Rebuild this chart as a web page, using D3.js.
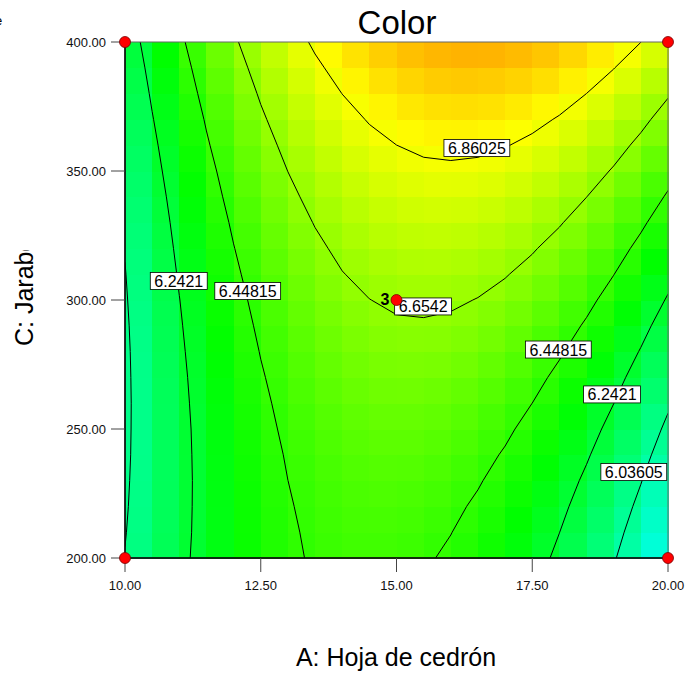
<!DOCTYPE html>
<html>
<head>
<meta charset="utf-8">
<script src="https://cdn.jsdelivr.net/npm/d3@7"></script>
<style>
  body { margin: 0; background: #fff; }
  svg { display: block; font-family: "Liberation Sans", Arial, sans-serif; }
</style>
</head>
<body>
<svg id="chart" width="688" height="673"></svg>
<script>
// factor levels of the grid (A: Hoja de cedrón, C: Jarabe)
const gridX = [10, 10.5, 11, 11.5, 12, 12.5, 13, 13.5, 14, 14.5, 15, 15.5, 16, 16.5, 17, 17.5, 18, 18.5, 19, 19.5, 20];
const gridY = [200, 210, 220, 230, 240, 250, 260, 270, 280, 290, 300, 310, 320, 330, 340, 350, 360, 370, 380, 390, 400];

// predicted Color on the grid, one row per gridY value (bottom row first)
const colorGrid = [
  [6.040, 6.132, 6.214, 6.284, 6.344, 6.393, 6.431, 6.459, 6.475, 6.481, 6.476, 6.460, 6.433, 6.396, 6.347, 6.288, 6.218, 6.137, 6.046, 5.943, 5.830],
  [6.031, 6.126, 6.209, 6.282, 6.344, 6.395, 6.435, 6.465, 6.483, 6.491, 6.488, 6.474, 6.450, 6.414, 6.368, 6.311, 6.243, 6.164, 6.075, 5.974, 5.863],
  [6.024, 6.121, 6.207, 6.281, 6.345, 6.398, 6.441, 6.472, 6.493, 6.503, 6.502, 6.490, 6.468, 6.434, 6.390, 6.335, 6.269, 6.193, 6.105, 6.007, 5.898],
  [6.019, 6.118, 6.205, 6.282, 6.348, 6.403, 6.448, 6.481, 6.504, 6.516, 6.517, 6.508, 6.487, 6.456, 6.414, 6.361, 6.297, 6.222, 6.137, 6.041, 5.934],
  [6.015, 6.116, 6.206, 6.284, 6.353, 6.410, 6.456, 6.492, 6.517, 6.531, 6.534, 6.527, 6.508, 6.479, 6.439, 6.388, 6.326, 6.254, 6.171, 6.077, 5.972],
  [6.013, 6.116, 6.207, 6.288, 6.359, 6.418, 6.467, 6.504, 6.531, 6.548, 6.553, 6.547, 6.531, 6.504, 6.466, 6.417, 6.357, 6.287, 6.206, 6.114, 6.011],
  [6.012, 6.117, 6.211, 6.294, 6.366, 6.428, 6.478, 6.518, 6.547, 6.566, 6.573, 6.570, 6.555, 6.530, 6.494, 6.448, 6.390, 6.322, 6.243, 6.153, 6.052],
  [6.013, 6.120, 6.216, 6.301, 6.375, 6.439, 6.492, 6.534, 6.565, 6.585, 6.595, 6.593, 6.581, 6.558, 6.524, 6.480, 6.424, 6.358, 6.281, 6.193, 6.094],
  [6.015, 6.124, 6.223, 6.310, 6.386, 6.452, 6.507, 6.551, 6.584, 6.606, 6.618, 6.619, 6.609, 6.588, 6.556, 6.513, 6.460, 6.396, 6.321, 6.235, 6.138],
  [6.019, 6.130, 6.231, 6.320, 6.399, 6.466, 6.523, 6.569, 6.605, 6.629, 6.643, 6.645, 6.637, 6.619, 6.589, 6.548, 6.497, 6.435, 6.362, 6.278, 6.184],
  [6.025, 6.138, 6.240, 6.332, 6.412, 6.482, 6.541, 6.589, 6.627, 6.653, 6.669, 6.674, 6.668, 6.651, 6.624, 6.585, 6.536, 6.476, 6.405, 6.324, 6.231],
  [6.032, 6.147, 6.252, 6.345, 6.428, 6.500, 6.561, 6.611, 6.651, 6.679, 6.697, 6.704, 6.700, 6.685, 6.660, 6.624, 6.576, 6.518, 6.450, 6.370, 6.280],
  [6.041, 6.158, 6.265, 6.360, 6.445, 6.519, 6.582, 6.634, 6.676, 6.707, 6.726, 6.736, 6.734, 6.721, 6.698, 6.663, 6.618, 6.563, 6.496, 6.418, 6.330],
  [6.051, 6.170, 6.279, 6.377, 6.463, 6.540, 6.605, 6.659, 6.703, 6.736, 6.758, 6.769, 6.769, 6.758, 6.737, 6.705, 6.662, 6.608, 6.544, 6.468, 6.382],
  [6.063, 6.184, 6.295, 6.395, 6.484, 6.562, 6.629, 6.686, 6.731, 6.766, 6.790, 6.803, 6.806, 6.797, 6.778, 6.748, 6.707, 6.655, 6.593, 6.520, 6.435],
  [6.076, 6.200, 6.313, 6.414, 6.505, 6.586, 6.655, 6.714, 6.761, 6.798, 6.824, 6.840, 6.844, 6.838, 6.821, 6.793, 6.754, 6.704, 6.644, 6.572, 6.490],
  [6.091, 6.217, 6.332, 6.436, 6.529, 6.611, 6.682, 6.743, 6.793, 6.832, 6.860, 6.878, 6.884, 6.880, 6.865, 6.839, 6.802, 6.754, 6.696, 6.627, 6.547],
  [6.108, 6.236, 6.352, 6.458, 6.554, 6.638, 6.711, 6.774, 6.826, 6.867, 6.897, 6.917, 6.926, 6.923, 6.910, 6.886, 6.852, 6.806, 6.750, 6.683, 6.605],
  [6.126, 6.256, 6.375, 6.483, 6.580, 6.666, 6.742, 6.807, 6.861, 6.904, 6.936, 6.958, 6.969, 6.969, 6.958, 6.936, 6.903, 6.860, 6.806, 6.741, 6.665],
  [6.146, 6.277, 6.398, 6.509, 6.608, 6.696, 6.774, 6.841, 6.897, 6.942, 6.977, 7.000, 7.013, 7.015, 7.006, 6.987, 6.956, 6.915, 6.863, 6.800, 6.726],
  [6.167, 6.301, 6.424, 6.536, 6.638, 6.728, 6.808, 6.877, 6.935, 6.982, 7.019, 7.045, 7.060, 7.064, 7.057, 7.039, 7.011, 6.972, 6.922, 6.861, 6.789]
];

const contourLevels = [6.03605, 6.2421, 6.44815, 6.6542, 6.86025];

// where each contour label box sits
const contourLabels = [
  { text: "6.86025", x: 16.48, y: 358.9 },
  { text: "6.2421", x: 10.99, y: 307.4 },
  { text: "6.44815", x: 12.26, y: 303.5 },
  { text: "6.6542", x: 15.49, y: 297.5 },
  { text: "6.44815", x: 17.98, y: 280.8 },
  { text: "6.2421", x: 18.97, y: 263.4 },
  { text: "6.03605", x: 19.37, y: 233.3 }
];

const designPoints = [
  { x: 10, y: 200, n: 1 }, { x: 10, y: 400, n: 1 },
  { x: 20, y: 200, n: 1 }, { x: 20, y: 400, n: 1 },
  { x: 15, y: 300, n: 3 }
];

const xTicks = [10, 12.5, 15, 17.5, 20];
const yTicks = [200, 250, 300, 350, 400];

const colorStops = [5.29, 5.82, 6.35, 6.88, 7.41];
const colorRange = ["#0000ff", "#00ffff", "#00ff00", "#ffff00", "#ff0000"];

const svg = d3.select("#chart");
const plotL = 125, plotR = 668, plotT = 42, plotB = 558;

const x = d3.scaleLinear().domain([10, 20]).range([plotL, plotR]);
const y = d3.scaleLinear().domain([200, 400]).range([plotB, plotT]);
const fill = d3.scaleLinear().domain(colorStops).range(colorRange).clamp(true);

const defs = svg.append("defs");
defs.append("clipPath").attr("id", "plot-clip")
  .append("rect").attr("x", plotL).attr("y", plotT)
  .attr("width", plotR - plotL).attr("height", plotB - plotT);
defs.append("clipPath").attr("id", "ylab-clip")
  .append("rect").attr("x", 0).attr("y", 250).attr("width", 60).attr("height", 300);

// colored tiles
const cells = [];
for (let j = 0; j < gridY.length - 1; j++) {
  for (let i = 0; i < gridX.length - 1; i++) {
    const v = (colorGrid[j][i] + colorGrid[j][i + 1] + colorGrid[j + 1][i] + colorGrid[j + 1][i + 1]) / 4;
    cells.push({ x0: gridX[i], x1: gridX[i + 1], y0: gridY[j], y1: gridY[j + 1], v });
  }
}
svg.append("g").attr("shape-rendering", "crispEdges")
  .selectAll("rect").data(cells).join("rect")
  .attr("x", d => x(d.x0))
  .attr("y", d => y(d.y1))
  .attr("width", d => x(d.x1) - x(d.x0) + 0.5)
  .attr("height", d => y(d.y0) - y(d.y1) + 0.5)
  .attr("fill", d => fill(d.v));

// contour lines
const nx = gridX.length, ny = gridY.length;
const gx = d3.scaleLinear().domain([0.5, nx - 0.5]).range([gridX[0], gridX[nx - 1]]);
const gy = d3.scaleLinear().domain([0.5, ny - 0.5]).range([gridY[0], gridY[ny - 1]]);
const contours = d3.contours().size([nx, ny]).thresholds(contourLevels)(colorGrid.flat());
const path = d3.geoPath(d3.geoTransform({
  point(px, py) { this.stream.point(x(gx(px)), y(gy(py))); }
}));
svg.append("g").attr("clip-path", "url(#plot-clip)")
  .selectAll("path").data(contours).join("path")
  .attr("d", path)
  .attr("fill", "none")
  .attr("stroke", "#000")
  .attr("stroke-width", 1);

// frame
svg.append("rect").attr("x", plotL).attr("y", plotT)
  .attr("width", plotR - plotL).attr("height", plotB - plotT)
  .attr("fill", "none").attr("stroke", "#666").attr("stroke-width", 1);
svg.append("line").attr("x1", plotL).attr("x2", plotL).attr("y1", plotT).attr("y2", plotB)
  .attr("stroke", "#000").attr("stroke-width", 1.5);
svg.append("line").attr("x1", plotL).attr("x2", plotR).attr("y1", plotB).attr("y2", plotB)
  .attr("stroke", "#000").attr("stroke-width", 1.5);

// contour labels
const lab = svg.append("g").attr("clip-path", "url(#plot-clip)")
  .selectAll("g").data(contourLabels).join("g")
  .attr("transform", d => `translate(${x(d.x)},${y(d.y)})`);
lab.append("rect");
lab.append("text")
  .attr("text-anchor", "middle").attr("y", 6)
  .attr("font-size", 16).attr("fill", "#000")
  .text(d => d.text);
lab.each(function () {
  const g = d3.select(this);
  const w = g.select("text").node().getComputedTextLength();
  g.select("rect").attr("x", -w / 2 - 4).attr("y", -8.5)
    .attr("width", w + 8).attr("height", 17)
    .attr("fill", "#fff").attr("stroke", "#000").attr("stroke-width", 0.8);
});

// x axis ticks
const xt = svg.append("g").selectAll("g").data(xTicks).join("g")
  .attr("transform", d => `translate(${x(d)},${plotB})`);
xt.append("line").attr("y1", 0).attr("y2", 14).attr("stroke", "#444");
xt.append("text").attr("y", 32).attr("text-anchor", "middle")
  .attr("font-size", 13).attr("fill", "#111").text(d => d.toFixed(2));

// y axis ticks
const yt = svg.append("g").selectAll("g").data(yTicks).join("g")
  .attr("transform", d => `translate(${plotL},${y(d)})`);
yt.append("line").attr("x1", -14).attr("x2", 0).attr("stroke", "#444");
yt.append("text").attr("x", -19).attr("y", 4.5).attr("text-anchor", "end")
  .attr("font-size", 13).attr("fill", "#111").text(d => d.toFixed(2));

// design points
svg.append("g").selectAll("circle").data(designPoints).join("circle")
  .attr("cx", d => x(d.x)).attr("cy", d => y(d.y)).attr("r", 5.5)
  .attr("fill", "#ff0000").attr("stroke", "#700").attr("stroke-width", 0.8);
svg.append("g").selectAll("text").data(designPoints.filter(d => d.n > 1)).join("text")
  .attr("x", d => x(d.x) - 7).attr("y", d => y(d.y) + 5)
  .attr("text-anchor", "end").attr("font-size", 16).attr("font-weight", "bold")
  .text(d => d.n);

// titles
svg.append("text").attr("x", 397).attr("y", 34).attr("text-anchor", "middle")
  .attr("font-size", 33).text("Color");
svg.append("text").attr("x", 396).attr("y", 666).attr("text-anchor", "middle")
  .attr("font-size", 25).text("A: Hoja de cedrón");
svg.append("g").attr("clip-path", "url(#ylab-clip)")
  .append("text").attr("transform", "translate(33,346) rotate(-90)")
  .attr("font-size", 25).text("C: Jarabe");
svg.append("text").attr("x", -5).attr("y", 25).attr("font-size", 13).text("e");
</script>
</body>
</html>
